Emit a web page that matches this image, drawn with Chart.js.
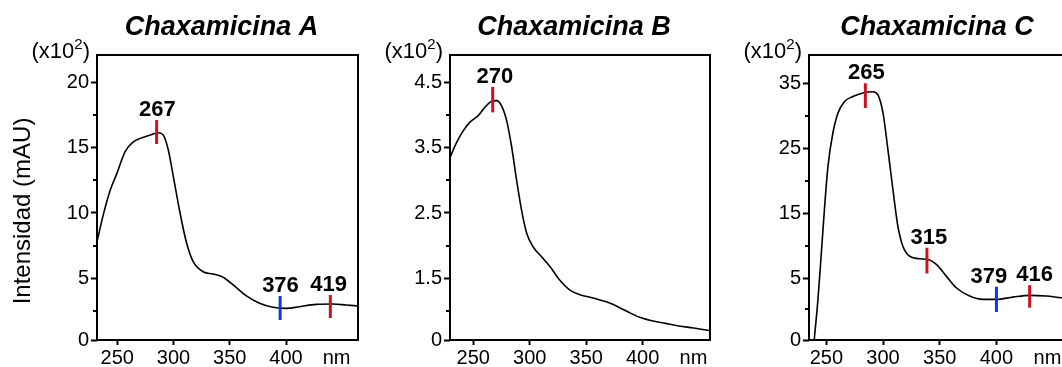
<!DOCTYPE html>
<html>
<head>
<meta charset="utf-8">
<script src="https://cdn.jsdelivr.net/npm/chart.js@4"></script>
<style>
  html,body{margin:0;padding:0;background:#fff;overflow:hidden;width:1062px;height:367px;}
  canvas{position:absolute;top:0;}
</style>
</head>
<body>
<canvas id="cA" width="365" height="367" style="left:0px"></canvas>
<canvas id="cB" width="360" height="367" style="left:360px"></canvas>
<canvas id="cC" width="360" height="367" style="left:720px"></canvas>
<script>
const FONT = '"Liberation Sans", Arial, sans-serif';

// shared x axis ticks (last one carries the unit)
const xTicks = [250, 300, 350, 400, 445];
const xLabels = ['250', '300', '350', '400', 'nm'];

// Chaxamicina A
const nmA = [232, 237.9, 243.8, 249.7, 257, 264.4, 270.4, 279.2, 286.6, 291, 295.4, 299.9, 305.8, 311.7, 317.5, 326.4, 335.2, 344, 353, 364.8, 376.5, 388.3, 400.2, 412, 426.7, 441.4, 453.3, 464];
const intA = [7.8, 9.97, 11.76, 13.03, 14.69, 15.45, 15.71, 15.96, 16.14, 15.96, 14.82, 12.77, 10.0, 7.68, 6.27, 5.5, 5.33, 5.08, 4.49, 3.65, 3.09, 2.78, 2.7, 2.83, 3.01, 3.03, 2.96, 2.88];
const yTicksA = [0.28, 5, 10, 15, 20];
const yLabelsA = ['0', '5', '10', '15', '20'];
const yMinorA = [2.5, 7.5, 12.5, 17.5];
const peakNmA = [285, 394.8, 439.4];
const peakLoA = [15.28, 1.81, 1.96];
const peakHiA = [17.11, 3.65, 3.72];
const peakTxtA = ['267', '376', '419'];
const peakTxtNmA = [285.7, 395.1, 437.9];
const peakColA = ['#cc1122', '#1133ee', '#cc1122'];

// Chaxamicina B
const nmB = [229.4, 235.3, 241.2, 247.1, 254.4, 260.4, 266.3, 270.7, 275.1, 279.6, 284, 288.4, 292.8, 297.3, 303.1, 310.5, 317.9, 326.7, 335.6, 344.4, 356.2, 366, 374, 382, 390, 398, 408, 420, 432, 445, 459.6];
const intB = [3.35, 3.58, 3.76, 3.89, 3.99, 4.12, 4.21, 4.22, 4.14, 3.91, 3.51, 3.0, 2.54, 2.19, 1.98, 1.83, 1.68, 1.47, 1.32, 1.25, 1.2, 1.15, 1.1, 1.03, 0.96, 0.9, 0.85, 0.81, 0.77, 0.74, 0.7];
const yTicksB = [0.556, 1.5, 2.5, 3.5, 4.5];
const yLabelsB = ['0', '1.5', '2.5', '3.5', '4.5'];
const yMinorB = [1.0, 2.0, 3.0, 4.0];
const peakNmB = [267.2];
const peakLoB = [4.04];
const peakHiB = [4.43];
const peakTxtB = ['270'];
const peakTxtNmB = [269.2];
const peakColB = ['#cc1122'];

// Chaxamicina C
const nmC = [239.3, 242.6, 245.6, 248.5, 251.4, 255.8, 260.2, 266.1, 273.5, 282.3, 291.1, 295.5, 300, 304.3, 308.7, 313.1, 317.5, 323.4, 332.2, 339.6, 347, 355.8, 364.6, 376.4, 388.1, 400, 414.5, 429.3, 444, 457.2, 464];
const intC = [-4.4, 1.83, 8.98, 16.1, 22.2, 27.4, 30.4, 32.2, 32.96, 33.5, 33.7, 33.2, 30.4, 24.8, 18.7, 13.05, 9.99, 8.46, 8.06, 7.96, 7.19, 5.4, 3.62, 2.34, 1.83, 1.83, 2.18, 2.44, 2.34, 2.09, 2.0];
const yTicksC = [-4.4, 5, 15, 25, 35];
const yLabelsC = ['0', '5', '15', '25', '35'];
const yMinorC = [0.3, 10, 20, 30];
const peakNmC = [284.4, 338.7, 400, 429.3];
const peakLoC = [31.2, 5.81, -0.11, 0.56];
const peakHiC = [35.0, 9.75, 3.77, 4.02];
const peakTxtC = ['265', '315', '379', '416'];
const peakTxtNmC = [285.3, 340.5, 393.4, 433.7];
const peakColC = ['#cc1122', '#cc1122', '#1133ee', '#cc1122'];

const panels = [
  {id:'cA', title:'Chaxamicina A', nm:nmA, val:intA, xMin:232, xMax:464, yMin:0.28, yMax:22.09,
   yTicks:yTicksA, yLabels:yLabelsA, yMinor:yMinorA, axisW:97, padR:7, yTitle:true, titleDx:-6,
   pk:{nm:peakNmA, lo:peakLoA, hi:peakHiA, txt:peakTxtA, txtNm:peakTxtNmA, col:peakColA}},
  {id:'cB', title:'Chaxamicina B', nm:nmB, val:intB, xMin:229.4, xMax:459.6, yMin:0.556, yMax:4.918,
   yTicks:yTicksB, yLabels:yLabelsB, yMinor:yMinorB, axisW:90, padR:10, yTitle:false, titleDx:-6,
   pk:{nm:peakNmB, lo:peakLoB, hi:peakHiB, txt:peakTxtB, txtNm:peakTxtNmB, col:peakColB}},
  {id:'cC', title:'Chaxamicina C', nm:nmC, val:intC, xMin:234.7, xMax:464, yMin:-4.4, yMax:39.33,
   yTicks:yTicksC, yLabels:yLabelsC, yMinor:yMinorC, axisW:89, padR:11, yTitle:false, titleDx:-2,
   pk:{nm:peakNmC, lo:peakLoC, hi:peakHiC, txt:peakTxtC, txtNm:peakTxtNmC, col:peakColC}}
];

// frame, minor ticks, titles and peak labels
const decor = {
  id: 'decor',
  afterDatasetsDraw(chart, args, o){
    const p = o.panel, ctx = chart.ctx, a = chart.chartArea;
    const xs = chart.scales.x, ys = chart.scales.y;
    ctx.save();
    ctx.strokeStyle = '#000';
    ctx.lineWidth = 2;
    ctx.strokeRect(a.left, a.top, a.right - a.left, a.bottom - a.top);
    // minor y ticks
    p.yMinor.forEach(v => {
      const y = Math.round(ys.getPixelForValue(v));
      ctx.beginPath(); ctx.moveTo(a.left - 4, y); ctx.lineTo(a.left, y); ctx.stroke();
    });
    ctx.fillStyle = '#000';
    // title
    ctx.font = 'bold italic 27px ' + FONT;
    ctx.textAlign = 'center'; ctx.textBaseline = 'alphabetic';
    ctx.fillText(p.title, (a.left + a.right) / 2 + p.titleDx, 35);
    // (x10^2)
    ctx.font = '22px ' + FONT;
    ctx.textAlign = 'left';
    const w1 = ctx.measureText('(x10').width;
    ctx.font = '15px ' + FONT;
    const w2 = ctx.measureText('2').width;
    ctx.font = '22px ' + FONT;
    const w3 = ctx.measureText(')').width;
    let x0 = a.left - 7 - (w1 + w2 + w3);
    ctx.fillText('(x10', x0, 58);
    ctx.font = '15px ' + FONT;
    ctx.fillText('2', x0 + w1, 49);
    ctx.font = '22px ' + FONT;
    ctx.fillText(')', x0 + w1 + w2, 58);
    // y axis title
    if (p.yTitle) {
      ctx.save();
      ctx.translate(23, 211);
      ctx.rotate(-Math.PI / 2);
      ctx.font = '24px ' + FONT;
      ctx.textAlign = 'center'; ctx.textBaseline = 'middle';
      ctx.fillText('Intensidad (mAU)', 0, 0);
      ctx.restore();
    }
    // peak labels
    ctx.font = 'bold 22px ' + FONT;
    ctx.textAlign = 'center'; ctx.textBaseline = 'alphabetic';
    p.pk.txt.forEach((t, i) => {
      ctx.fillText(t, xs.getPixelForValue(p.pk.txtNm[i]), ys.getPixelForValue(p.pk.hi[i]) - 4);
    });
    ctx.restore();
  }
};

function makePanel(p){
  const sets = [{
    data: p.nm.map((x, i) => ({x: x, y: p.val[i]})),
    borderColor: '#000', borderWidth: 1.6, pointRadius: 0,
    cubicInterpolationMode: 'monotone', order: 2
  }];
  p.pk.nm.forEach((x, i) => {
    sets.push({
      data: [{x: x, y: p.pk.lo[i]}, {x: x, y: p.pk.hi[i]}],
      borderColor: p.pk.col[i], borderWidth: 3, pointRadius: 0, order: 1
    });
  });
  new Chart(document.getElementById(p.id), {
    type: 'line',
    data: {datasets: sets},
    plugins: [decor],
    options: {
      responsive: false, animation: false, devicePixelRatio: 1,
      layout: {padding: {top: 55, right: p.padR, left: 0, bottom: 0}},
      plugins: {legend: {display: false}, tooltip: {enabled: false}, decor: {panel: p}},
      scales: {
        x: {
          type: 'linear', min: p.xMin, max: p.xMax,
          afterBuildTicks: s => { s.ticks = xTicks.map(v => ({value: v})); },
          afterFit: s => { s.height = 27; },
          ticks: {autoSkip: false, maxRotation: 0, padding: 1, color: '#000',
                  font: {size: 20, family: FONT}, callback: (v, i) => xLabels[i]},
          grid: {drawOnChartArea: false, tickLength: 5, tickWidth: 2,
                 tickColor: c => (c.tick && c.tick.value === 445) ? 'rgba(0,0,0,0)' : '#000'},
          border: {display: false}
        },
        y: {
          type: 'linear', min: p.yMin, max: p.yMax,
          afterBuildTicks: s => { s.ticks = p.yTicks.map(v => ({value: v})); },
          afterFit: s => { s.width = p.axisW; },
          ticks: {autoSkip: false, padding: 2, color: '#000',
                  font: {size: 20, family: FONT}, callback: (v, i) => p.yLabels[i]},
          grid: {drawOnChartArea: false, tickLength: 6, tickWidth: 2, tickColor: '#000'},
          border: {display: false}
        }
      }
    }
  });
}

panels.forEach(makePanel);
</script>
</body>
</html>
